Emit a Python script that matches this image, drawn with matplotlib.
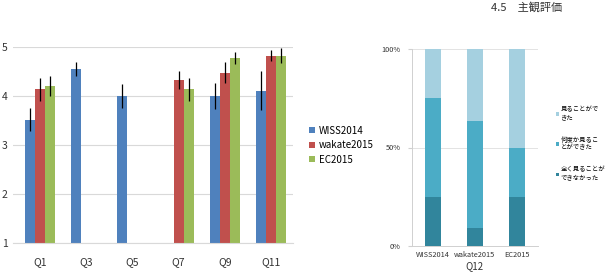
import numpy as np
import matplotlib

matplotlib.use("Agg")
import matplotlib.pyplot as plt

plt.rcParams["font.family"] = ["Noto Sans CJK JP", "DejaVu Sans"]

# left chart: mean scores with error bars
questions = ["Q1", "Q3", "Q5", "Q7", "Q9", "Q11"]
series_names = ["WISS2014", "wakate2015", "EC2015"]
wiss = [3.52, 4.56, 4.00, np.nan, 4.00, 4.11]
wiss_err = [0.24, 0.14, 0.24, 0, 0.27, 0.40]
wakate = [4.14, np.nan, np.nan, 4.33, 4.48, 4.83]
wakate_err = [0.23, 0, 0, 0.18, 0.21, 0.12]
ec = [4.21, np.nan, np.nan, 4.14, 4.78, 4.83]
ec_err = [0.21, 0, 0, 0.23, 0.12, 0.15]

# right chart: Q12 stacked shares
q12_groups = ["WISS2014", "wakate2015", "EC2015"]
never = [0.25, 0.091, 0.25]
sometimes = [0.50, 0.545, 0.25]
always = [0.25, 0.364, 0.50]
q12_labels = ["全く見ることが\nできなかった", "何度か見るこ\nとができた", "見ることがで\nきた"]

W, H = 610, 279
fig = plt.figure(figsize=(W / 100, H / 100), dpi=100)

def px_axes(x0, y0, x1, y1):
    return fig.add_axes([x0 / W, 1 - y1 / H, (x1 - x0) / W, (y1 - y0) / H])

# ---- left bar chart
ax = px_axes(13, 47.3, 293, 243)
colors = ["#4f81bd", "#c0504d", "#9bbb59"]
x = np.arange(len(questions))
w = 0.22
for i, (vals, errs) in enumerate([(wiss, wiss_err), (wakate, wakate_err), (ec, ec_err)]):
    vals = np.array(vals, dtype=float)
    mask = ~np.isnan(vals)
    ax.bar(x[mask] + (i - 1) * w, vals[mask] - 1, bottom=1, width=w,
           color=colors[i], label=series_names[i], zorder=2)
    ax.errorbar(x[mask] + (i - 1) * w, vals[mask], yerr=np.array(errs)[mask],
                fmt="none", ecolor="black", elinewidth=0.9, capsize=0, zorder=3)
ax.set_xlim(-0.584, 5.476)
ax.set_ylim(1, 5)
ax.set_yticks([1, 2, 3, 4, 5])
ax.set_xticks(x)
ax.set_xticklabels(questions)
ax.grid(axis="y", color="#d9d9d9", linewidth=0.8, zorder=0)
for s in ["top", "right", "left"]:
    ax.spines[s].set_visible(False)
ax.spines["bottom"].set_color("#d9d9d9")
ax.tick_params(length=0, labelsize=7.5, colors="#333333")
ax.tick_params(axis="y", pad=4)
ax.tick_params(axis="x", pad=10)
ax.legend(loc="center left", bbox_to_anchor=(1.045, 0.5), frameon=False,
          fontsize=7, handlelength=0.6, handleheight=0.6, handletextpad=0.4,
          labelspacing=0.45, borderaxespad=0)

# ---- right stacked chart
ax2 = px_axes(411.7, 49.3, 538, 245.7)
xs = np.arange(len(q12_groups))
bw = 0.39
blues = ["#31859c", "#4bacc6", "#a5d0e0"]
bottom = np.zeros(len(q12_groups))
handles = []
for vals, col, lab in zip([never, sometimes, always], blues, q12_labels):
    h = ax2.bar(xs, vals, bottom=bottom, width=bw, color=col, label=lab, zorder=2)
    handles.append(h)
    bottom += np.array(vals)
ax2.set_xlim(-0.5, 2.5)
ax2.set_ylim(0, 1)
ax2.set_yticks([0, 0.5, 1])
ax2.set_yticklabels(["0%", "50%", "100%"])
ax2.set_xticks(xs)
ax2.set_xticklabels(q12_groups)
ax2.grid(axis="y", color="#e3e3e3", linewidth=0.7, zorder=0)
for s in ["top", "right"]:
    ax2.spines[s].set_visible(False)
for s in ["left", "bottom"]:
    ax2.spines[s].set_color("#d0d0d0")
    ax2.spines[s].set_linewidth(0.7)
ax2.tick_params(axis="y", length=3, color="#d0d0d0", labelsize=5.3, colors="#333333", pad=5)
ax2.tick_params(axis="x", length=0, labelsize=5.3, colors="#333333", pad=4)
ax2.set_xlabel("Q12", fontsize=7, color="#333333", labelpad=1)
leg = ax2.legend(handles[::-1], q12_labels[::-1], loc="center left",
                 bbox_to_anchor=(1.12, 0.52), frameon=False, fontsize=4.6,
                 handlelength=0.5, handleheight=0.5, handletextpad=0.3,
                 labelspacing=2.2, borderaxespad=0)
for t in leg.get_texts():
    t.set_linespacing(1.0)

fig.text(491 / W, 1 - 7 / H, "4.5　主観評価", fontsize=8, color="#333333", va="center", ha="left")

fig.savefig("out.png", dpi=100, facecolor="white")
